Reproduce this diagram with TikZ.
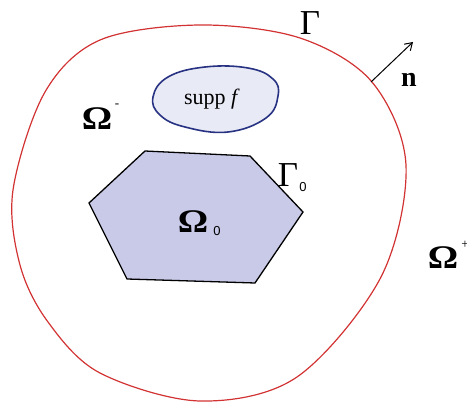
\documentclass[tikz,border=0pt]{standalone}
\usepackage{fontspec}
\usetikzlibrary{arrows.meta}
\setmainfont{Liberation Serif}
\newfontfamily\sansf{Liberation Sans}
\definecolor{redc}{RGB}{210,50,50}
\definecolor{hexfill}{RGB}{200,202,232}
\definecolor{blobfill}{RGB}{232,234,246}
\definecolor{blobline}{RGB}{40,50,130}
\begin{document}
\begin{tikzpicture}[x=1pt,y=-1pt,
  lbl/.style={inner sep=0pt,outer sep=0pt},
  omega/.style={lbl,xscale=1.15,font=\fontsize{33}{33}\selectfont\bfseries},
  gam/.style={lbl,font=\fontsize{35}{35}\selectfont}]
\useasboundingbox (0,0) rectangle (467,403);
% outer boundary Gamma
\draw[redc,line width=1.2pt] plot[smooth cycle,tension=0.55] coordinates {
 (100,40) (200,25) (300,38) (372,82) (406,165) (381,277) (297,377)
 (200,401) (100,373) (48,322) (20,265) (13,190) (45,92)};
% supp f blob
\draw[blobline,fill=blobfill,line width=1.6pt] plot[smooth cycle,tension=0.7] coordinates {
 (153,97) (168,77) (205,67) (248,68) (273,79) (278,96) (266,118) (228,132) (185,127) (160,115)};
\node[lbl,font=\fontsize{22}{22}\selectfont] (supp) at (212,99) {supp \textit{f}};
% hexagon Omega_0
\draw[black,fill=hexfill,line width=1.3pt] (145,151) -- (250,156) -- (303,212) -- (255,283) -- (127,279) -- (89,203) -- cycle;
\node[omega] (om0) at (193,222) {Ω};
\node[lbl,font=\sansf\fontsize{13}{13}\selectfont] (om0s) at (217,231) {0};
% Gamma_0
\node[gam] (g0) at (288,175) {Γ};
\node[lbl,font=\sansf\fontsize{13}{13}\selectfont] (g0s) at (303,187) {0};
% Gamma
\node[gam] (g) at (310,23) {Γ};
% normal n
\coordinate (nstart) at (371,82);
\coordinate (ntip) at (413,42);
\draw[-{Straight Barb[length=7pt,width=9pt]},line width=1pt] (nstart) -- (ntip);
\node[lbl,font=\fontsize{28}{28}\selectfont\bfseries] (n) at (409,80) {n};
% Omega^-
\node[omega] (omm) at (97,119) {Ω};
\node[lbl,font=\fontsize{13}{13}\selectfont] (omms) at (117,106) {-};
% Omega^+
\node[omega] (omp) at (443,258) {Ω};
\node[lbl,font=\fontsize{13}{13}\selectfont] (omps) at (465,245) {+};
\end{tikzpicture}
\end{document}
